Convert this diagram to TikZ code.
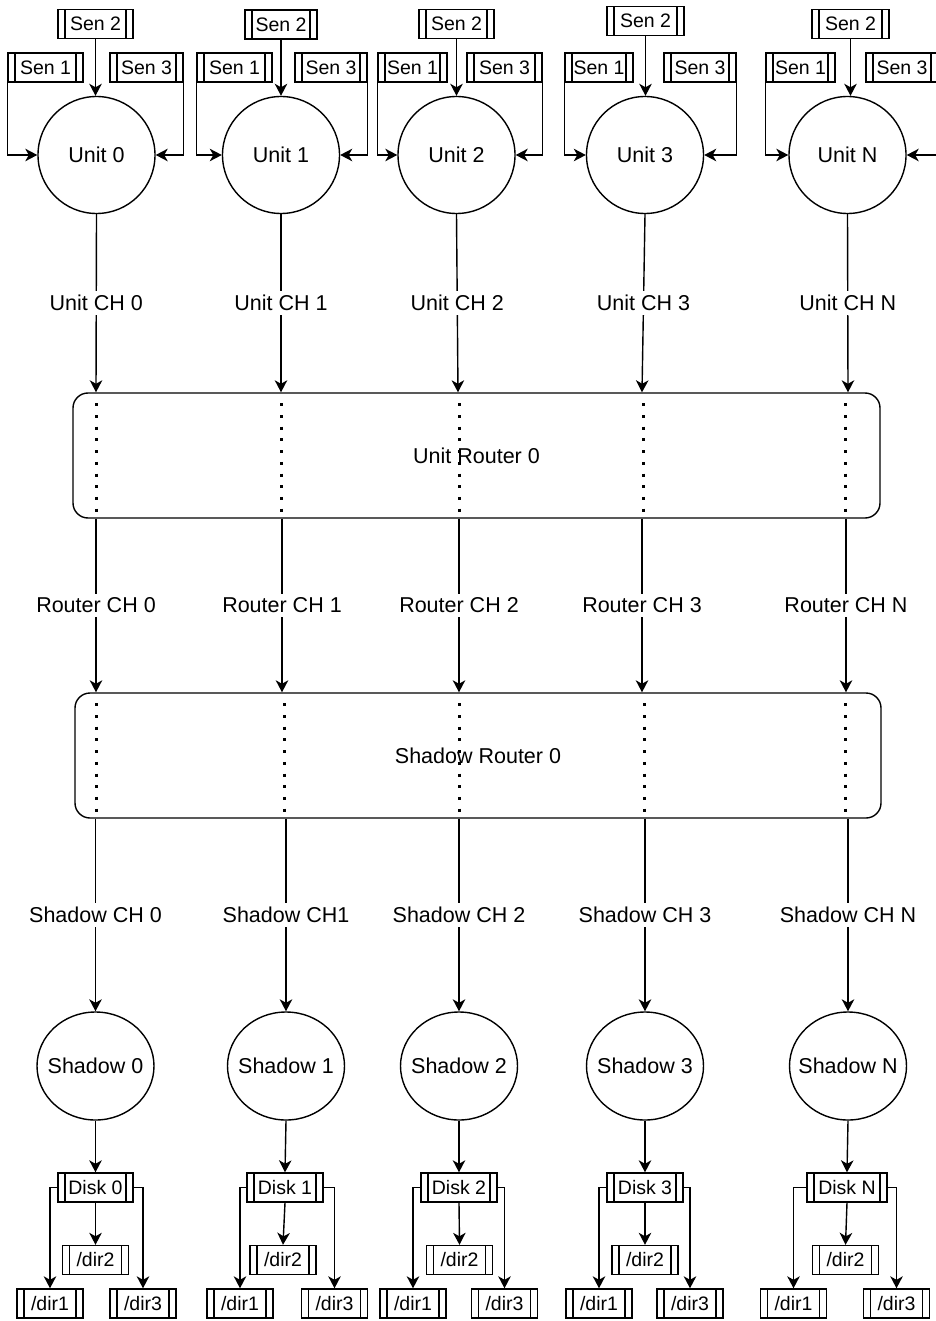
\documentclass[tikz,border=0pt]{standalone}
\usepackage{fontspec}
\setmainfont{Liberation Sans}
\usetikzlibrary{arrows.meta,shapes.geometric}

\newcommand\diagbig{\fontsize{21.5}{24}\selectfont}
\newcommand\diagsmall{\fontsize{19.5}{22}\selectfont}

\tikzset{
  arr/.style={-{Stealth[length=12pt,width=12.5pt,inset=3.5pt]}},
  proc/.style={draw, rectangle, inner sep=0pt, minimum height=29pt, font=\diagsmall,
    path picture={\draw ([xshift=7pt]path picture bounding box.south west) -- ([xshift=7pt]path picture bounding box.north west)
                        ([xshift=-7pt]path picture bounding box.south east) -- ([xshift=-7pt]path picture bounding box.north east);}},
  unitnode/.style={draw, circle, minimum size=117pt, inner sep=0pt, font=\diagbig},
  shadownode/.style={draw, ellipse, minimum width=117pt, minimum height=108pt, inner sep=0pt},
  router/.style={draw, rectangle, rounded corners=15pt, minimum height=125pt, font=\diagbig},
  lbl/.style={fill=white, inner sep=4pt, font=\diagbig},
  dots/.style={line width=3pt, dash pattern=on 3pt off 8.7pt},
}

\begin{document}
\begin{tikzpicture}[x=1pt, y=-1pt, line width=1.4pt]
\useasboundingbox (0,0) rectangle (935,1321);

% routers
\node[router, minimum width=807pt] (ur) at (476.5,455.5) {Unit Router 0};
\node[router, minimum width=806pt] (sr) at (478,755.5) {Shadow Router 0};

% units with their three sensors
\foreach \n/\ux/\btx/\bty/\btw/\bax/\baw/\bcx/\bcw in {
  0/96.5/95.5/24/75/45.5/75/146.5/73,
  1/281/281/24.5/72/234.5/75/331/72,
  2/456.5/456.5/24/75/412.5/69/504.5/75,
  3/645/645.5/21/77/599/68/700/72,
  N/847.5/850.5/24/77/800.5/69/902/72}{
  \node[unitnode] (u\n) at (\ux,155) {Unit \n};
  \node[proc, minimum width=\btw pt] (sb\n) at (\btx,\bty) {Sen 2};
  \node[proc, minimum width=\baw pt] (sa\n) at (\bax,67.5) {Sen 1};
  \node[proc, minimum width=\bcw pt] (sc\n) at (\bcx,67.5) {Sen 3};
  \draw[arr] (sb\n.south) -- (sb\n.south |- u\n.north);
  \draw[arr] (sa\n.south west) |- (u\n.west);
  \draw[arr] (sc\n.south east) |- (u\n.east);
}

% channels, shadows and disks
\foreach \n/\ucx/\rcx/\scx/\udx/\sdx/\shx/\dkx/\dkw/\dax/\dbx/\dcx/\shl in {
  0/96/96/96/96/96/95.5/95.5/75/50/95.5/143/Shadow CH 0,
  1/281/282/286/281/284/286/285/76/240/283/334.5/Shadow CH1,
  2/458/459/459/459/459/459/459/76/413/459.5/504.5/Shadow CH 2,
  3/642/642/645/643/644/645/645/76/599/645/690/Shadow CH 3,
  N/848/846/848/845/845/848/847/80/793.5/845.5/896.5/Shadow CH N}{
  \coordinate (uc\n) at (\ucx,0);
  \coordinate (rc\n) at (\rcx,0);
  \coordinate (ud\n) at (\udx,0);
  \coordinate (sd\n) at (\sdx,0);
  % dotted pass-through inside the routers
  \draw[dots] ([yshift=-11pt]ur.north -| ud\n) -- (ur.south -| ud\n);
  \draw[dots] ([yshift=-11pt]sr.north -| sd\n) -- (sr.south -| sd\n);
  \node[shadownode, label={[font=\diagbig]center:Shadow \n}] (sh\n) at (\shx,1066) {};
  \draw[arr] (u\n.south) -- (ur.north -| uc\n) node[midway, lbl] {Unit CH \n};
  \draw[arr] (ur.south -| rc\n) -- (sr.north -| rc\n) node[midway, lbl] {Router CH \n};
  \draw[arr] (sr.south -| sh\n) -- (sh\n.north) node[midway, lbl] {\shl};
  \node[proc, minimum width=\dkw pt] (dk\n) at (\dkx,1187.5) {Disk \n};
  \node[proc, minimum width=66pt] (da\n) at (\dax,1303.5) {/dir1};
  \node[proc, minimum width=66pt] (db\n) at (\dbx,1260) {/dir2};
  \node[proc, minimum width=66pt] (dc\n) at (\dcx,1303.5) {/dir3};
  \draw[arr] (sh\n.south) -- (dk\n.north);
  \draw[arr] (dk\n.south) -- (db\n.north);
  \draw[arr] (dk\n.west) -| (da\n.north);
  \draw[arr] (dk\n.east) -| (dc\n.north);
}
\end{tikzpicture}
\end{document}
